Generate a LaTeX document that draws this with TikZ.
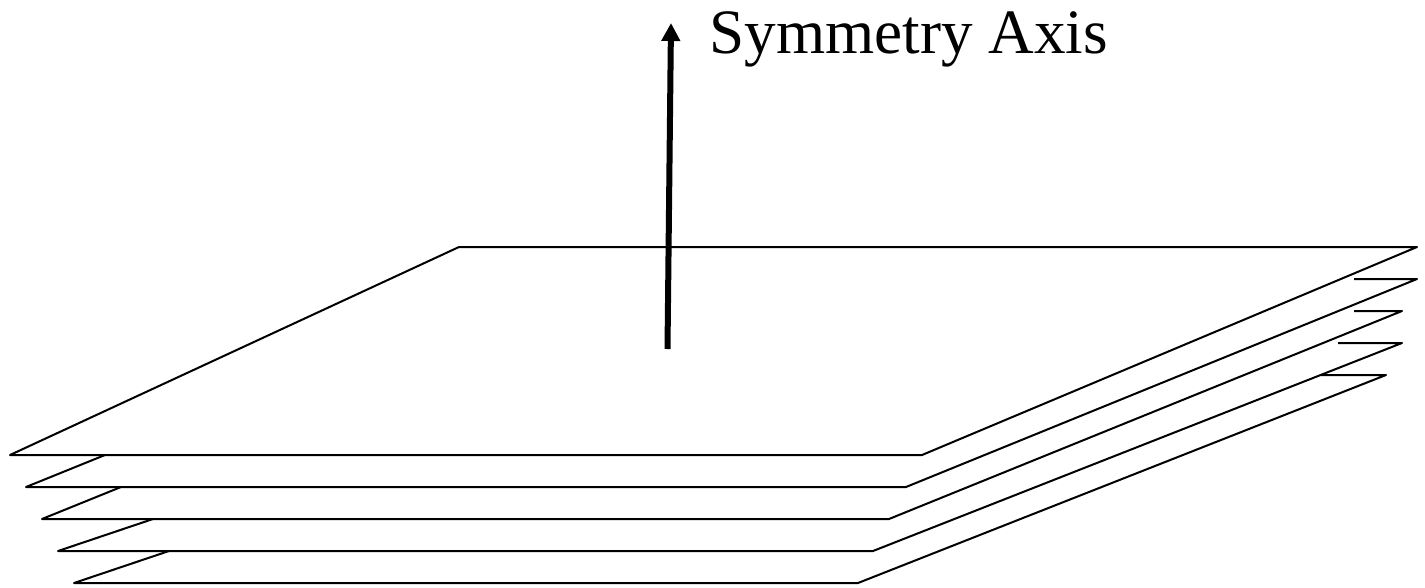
\documentclass[tikz,border=0pt]{standalone}
\usepackage{fontspec}
\setmainfont{Liberation Serif}
\usetikzlibrary{arrows.meta}
\tikzset{
  plate/.style={draw=black,line width=2pt,line join=round,line cap=butt},
  axis/.style={draw=black,line width=6pt,-{Triangle[length=18pt,width=18pt]}},
  lbl/.style={inner sep=0pt,outer sep=0pt,anchor=base west,font=\fontsize{63.2}{70}\selectfont}
}
\begin{document}
\begin{tikzpicture}[x=1pt,y=-1pt]
\useasboundingbox (0,0) rectangle (1425,587);
% top plate
\coordinate (a1) at (459,247);
\coordinate (a2) at (1417,247);
\coordinate (a3) at (922,455);
\coordinate (a4) at (10,455);
\draw[plate] (a1) -- (a2) -- (a3) -- (a4) -- cycle;
% second plate
\coordinate (b1) at (1354,279);
\coordinate (b2) at (1417,279);
\coordinate (b3) at (906,487);
\coordinate (b4) at (26,487);
\coordinate (b5) at (105,455);
\draw[plate] (b1) -- (b2) -- (b3) -- (b4) -- (b5);
% third plate
\coordinate (c1) at (1354,311);
\coordinate (c2) at (1402,311);
\coordinate (c3) at (889,519);
\coordinate (c4) at (42,519);
\coordinate (c5) at (121,487);
\draw[plate] (c1) -- (c2) -- (c3) -- (c4) -- (c5);
% fourth plate
\coordinate (d1) at (1338,343);
\coordinate (d2) at (1402,343);
\coordinate (d3) at (873,551);
\coordinate (d4) at (58,551);
\coordinate (d5) at (153,519);
\draw[plate] (d1) -- (d2) -- (d3) -- (d4) -- (d5);
% fifth plate
\coordinate (e1) at (1321,375);
\coordinate (e2) at (1386,375);
\coordinate (e3) at (858,583);
\coordinate (e4) at (74,583);
\coordinate (e5) at (169,551);
\draw[plate] (e1) -- (e2) -- (e3) -- (e4) -- (e5);
% axis
\coordinate (s) at (667.5,349);
\coordinate (t) at (671,23);
\draw[axis] (s) -- (t);
\node[lbl] (label) at (709.5,53) {Symmetry Axis};
\end{tikzpicture}
\end{document}
